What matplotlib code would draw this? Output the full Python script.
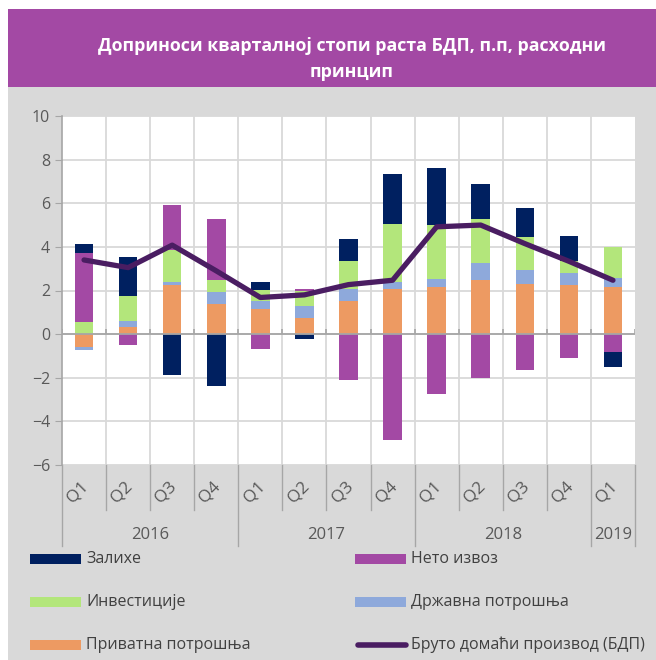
import numpy as np
import matplotlib.pyplot as plt
from matplotlib.patches import Rectangle
from matplotlib.lines import Line2D

plt.rcParams['font.family'] = ['Open Sans', 'DejaVu Sans']

quarters = ["Q1", "Q2", "Q3", "Q4", "Q1", "Q2", "Q3", "Q4", "Q1", "Q2", "Q3", "Q4", "Q1"]
years = ["2016", "2017", "2018", "2019"]
year_spans = [4, 4, 4, 1]

# contributions, p.p. (stack order as in the original)
private = [-0.60, 0.34, 2.27, 1.40, 1.15, 0.72, 1.51, 2.05, 2.17, 2.49, 2.32, 2.24, 2.17]
government = [-0.12, 0.27, 0.13, 0.51, 0.38, 0.58, 0.55, 0.35, 0.35, 0.76, 0.63, 0.57, 0.41]
investment = [0.56, 1.13, 1.45, 0.59, 0.49, 0.67, 1.28, 2.64, 2.47, 2.05, 1.51, 0.54, 1.42]
net_exports = [3.16, -0.50, 2.09, 2.80, -0.66, 0.09, -2.11, -4.86, -2.74, -2.01, -1.66, -1.11, -0.81]
inventories = [0.43, 1.80, -1.88, -2.38, 0.35, -0.24, 1.01, 2.29, 2.63, 1.60, 1.34, 1.17, -0.69]
gdp = [3.40, 3.05, 4.08, 2.90, 1.68, 1.80, 2.27, 2.47, 4.92, 5.00, 4.15, 3.34, 2.47]

series = [
    ("Приватна потрошња", private, "#ED9A62"),
    ("Државна потрошња", government, "#8EA9DB"),
    ("Инвестиције", investment, "#B3E67B"),
    ("Нето извоз", net_exports, "#A349A4"),
    ("Залихе", inventories, "#002060"),
]
gdp_label = "Бруто домаћи производ (БДП)"
gdp_color = "#4A1D62"

W, H = 656, 660
fig = plt.figure(figsize=(W / 100, H / 100), dpi=100)
fig.patch.set_facecolor("white")

# background panels
fig.patches.append(Rectangle((8 / W, 0), 1 - 8 / W, 1 - 87 / H, transform=fig.transFigure,
                             facecolor="#D9D9D9", edgecolor="none", zorder=-2))
fig.patches.append(Rectangle((8 / W, 1 - 87 / H), 1 - 8 / W, 78 / H, transform=fig.transFigure,
                             facecolor="#A349A4", edgecolor="none", zorder=-2))
fig.text(352 / W, 1 - 46 / H, "Доприноси кварталној стопи раста БДП, п.п, расходни",
         ha="center", va="center", color="white", fontsize=12.8, fontweight="bold")
fig.text(352 / W, 1 - 72 / H, "принцип", ha="center", va="center", color="white",
         fontsize=12.8, fontweight="bold")

ax = fig.add_axes([62 / W, 1 - 465 / H, (635 - 62) / W, 349 / H])
ax.set_zorder(1)
ax.set_facecolor("white")
x = np.arange(len(quarters))

pos_base = np.zeros(len(x))
neg_base = np.zeros(len(x))
for name, vals, color in series:
    v = np.array(vals)
    bottom = np.where(v >= 0, pos_base, neg_base)
    ax.bar(x, v, bottom=bottom, width=0.42, color=color, zorder=3)
    pos_base += np.where(v >= 0, v, 0)
    neg_base += np.where(v < 0, v, 0)

ax.plot(x, gdp, color=gdp_color, lw=3.8, solid_capstyle="round",
        solid_joinstyle="round", zorder=5)

ax.set_xlim(-0.5, len(x) - 0.5)
ax.set_ylim(-6, 10)
ax.set_yticks(np.arange(-6, 11, 2))
ax.set_xticks([])
ax.tick_params(axis="y", colors="#A6A6A6", labelcolor="#595959", labelsize=11.5, length=5)
ax.grid(axis="y", color="#D9D9D9", lw=1.3, zorder=0)
bounds = np.arange(-0.5, len(x), 1.0)
ax.vlines(bounds[1:-1], -6, 10, color="#D9D9D9", lw=1.3, zorder=0)
ax.axhline(0, color="#A6A6A6", lw=1.3, zorder=4)
ax.vlines(bounds, 0, 0.25, color="#A6A6A6", lw=1.2, zorder=4)
for s in ["top", "right", "bottom"]:
    ax.spines[s].set_visible(False)
ax.spines["left"].set_color("#A6A6A6")
ax.spines["left"].set_linewidth(1.2)

# category axis
tr = ax.get_xaxis_transform()
year_edges = np.concatenate([[0], np.cumsum(year_spans)]) - 0.5
for b in bounds:
    low = -0.232 if b in year_edges else -0.13
    ax.plot([b, b], [0, low], transform=tr, color="#A6A6A6", lw=1.0, clip_on=False)
for xi, q in zip(x, quarters):
    ax.text(xi - 0.14, -0.078, q, transform=tr, rotation=45, ha="center", va="center",
            color="#595959", fontsize=12.5)
for i, yr in enumerate(years):
    mid = (year_edges[i] + year_edges[i + 1]) / 2
    ax.text(mid, -0.201, yr, transform=tr, ha="center", va="center",
            color="#595959", fontsize=12)

# legend
legend_items = [
    (series[4][0], series[4][2], "bar"), (series[3][0], series[3][2], "bar"),
    (series[2][0], series[2][2], "bar"), (series[1][0], series[1][2], "bar"),
    (series[0][0], series[0][2], "bar"), (gdp_label, gdp_color, "line"),
]
col_x = [30, 355]
row_y = [559, 602, 645]
for i, (label, color, kind) in enumerate(legend_items):
    px = col_x[i % 2]
    py = row_y[i // 2]
    if kind == "bar":
        fig.patches.append(Rectangle((px / W, 1 - (py + 5) / H), 51 / W, 10 / H,
                                     transform=fig.transFigure, facecolor=color,
                                     edgecolor="none", zorder=2))
    else:
        fig.lines.append(Line2D([(px + 3) / W, (px + 51) / W], [1 - py / H, 1 - py / H],
                                transform=fig.transFigure, color=color, lw=4,
                                solid_capstyle="round", zorder=2))
    fig.text((px + 56) / W, 1 - py / H, label, ha="left", va="center",
             color="#404040", fontsize=11.5)

fig.savefig("out.png", dpi=100)
